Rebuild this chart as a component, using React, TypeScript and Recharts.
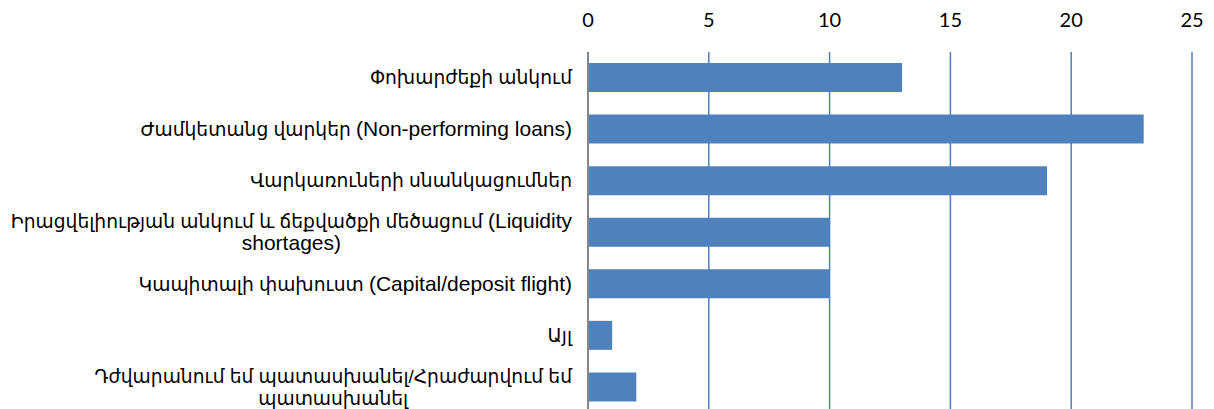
import { BarChart, Bar, XAxis, YAxis, CartesianGrid } from 'recharts';

const categories = [
  'Փոխարժեքի անկում',
  'Ժամկետանց վարկեր (Non-performing loans)',
  'Վարկառուների սնանկացումներ',
  'Իրացվելիության անկում և ճեքվածքի մեծացում (Liquidity\nshortages)',
  'Կապիտալի փախուստ (Capital/deposit flight)',
  'Այլ',
  'Դժվարանում եմ պատասխանել/Հրաժարվում եմ\nպատասխանել',
];
const values = [13, 23, 19, 10, 10, 1, 2];
const xTicks = [0, 5, 10, 15, 20, 25];

const chartData = categories.map((name, i) => ({ name, value: values[i] }));

const LABEL_FONT = '"Liberation Sans", "DejaVu Sans", Arial, sans-serif';
const LATIN_SIZE = 21;
const ARM_SIZE = 18.7; // DejaVu's Armenian runs wider than the original font
const LINE_H = 22;

const measureCtx = typeof document !== 'undefined' ? document.createElement('canvas').getContext('2d') : null;

// split a line into Armenian / non-Armenian runs so each can get its own size
const splitRuns = (s: string) => {
  const runs: { text: string; size: number }[] = [];
  const re = /[\u0530-\u058F\uFB13-\uFB17]+(?:[ /]+[\u0530-\u058F\uFB13-\uFB17]+)*[ /]?|[^\u0530-\u058F\uFB13-\uFB17]+/g;
  let m;
  while ((m = re.exec(s))) {
    const isArm = /[\u0530-\u058F]/.test(m[0]);
    runs.push({ text: m[0], size: isArm ? ARM_SIZE : LATIN_SIZE });
  }
  return runs;
};

const lineWidth = (s: string) => {
  if (!measureCtx) return s.length * 10;
  return splitRuns(s).reduce((w, r) => {
    measureCtx.font = `${r.size}px ${LABEL_FONT}`;
    return w + measureCtx.measureText(r.text).width;
  }, 0);
};

// category label: right aligned, wrapped lines centred under the widest one
const CategoryTick = ({ x, y, payload }: any) => {
  const lines: string[] = String(payload.value).split('\n');
  const maxW = Math.max(...lines.map(lineWidth));
  const cx = x - maxW / 2;
  const startY = y - ((lines.length - 1) * LINE_H) / 2;
  return (
    <g>
      {lines.map((line, i) => (
        <text
          key={i}
          x={lines.length > 1 ? cx : x}
          y={startY + i * LINE_H}
          dy={6.5}
          textAnchor={lines.length > 1 ? 'middle' : 'end'}
          fontFamily={LABEL_FONT}
          fill="#000"
          style={{ whiteSpace: 'pre' }}
        >
          {splitRuns(line).map((r, j) => (
            <tspan key={j} fontSize={r.size}>{r.text}</tspan>
          ))}
        </text>
      ))}
    </g>
  );
};

export default function App() {
  return (
    <div style={{ position: 'absolute', left: 0, top: 0, width: 1214, height: 409, overflow: 'hidden', background: '#fff' }}>
      <BarChart
        width={1214}
        height={413}
        data={chartData}
        layout="vertical"
        margin={{ top: 0, right: 22, left: 0, bottom: 0 }}
        barSize={29}
      >
        <CartesianGrid vertical horizontal={false} stroke="#4f7fbc" strokeWidth={1.5} />
        <XAxis
          type="number"
          orientation="top"
          domain={[0, 25]}
          ticks={xTicks}
          height={52}
          axisLine={false}
          tickLine={false}
          tickSize={0}
          tickMargin={25}
          tick={{ fontSize: 20, fill: '#000', fontFamily: 'Lato, "Open Sans", sans-serif' }}
        />
        <YAxis
          type="category"
          dataKey="name"
          width={588}
          axisLine={{ stroke: '#868686', strokeWidth: 2 }}
          tickLine={false}
          tickSize={0}
          tickMargin={16}
          tick={<CategoryTick />}
          interval={0}
        />
        <Bar dataKey="value" fill="#4f81bd" isAnimationActive={false} />
      </BarChart>
    </div>
  );
}
